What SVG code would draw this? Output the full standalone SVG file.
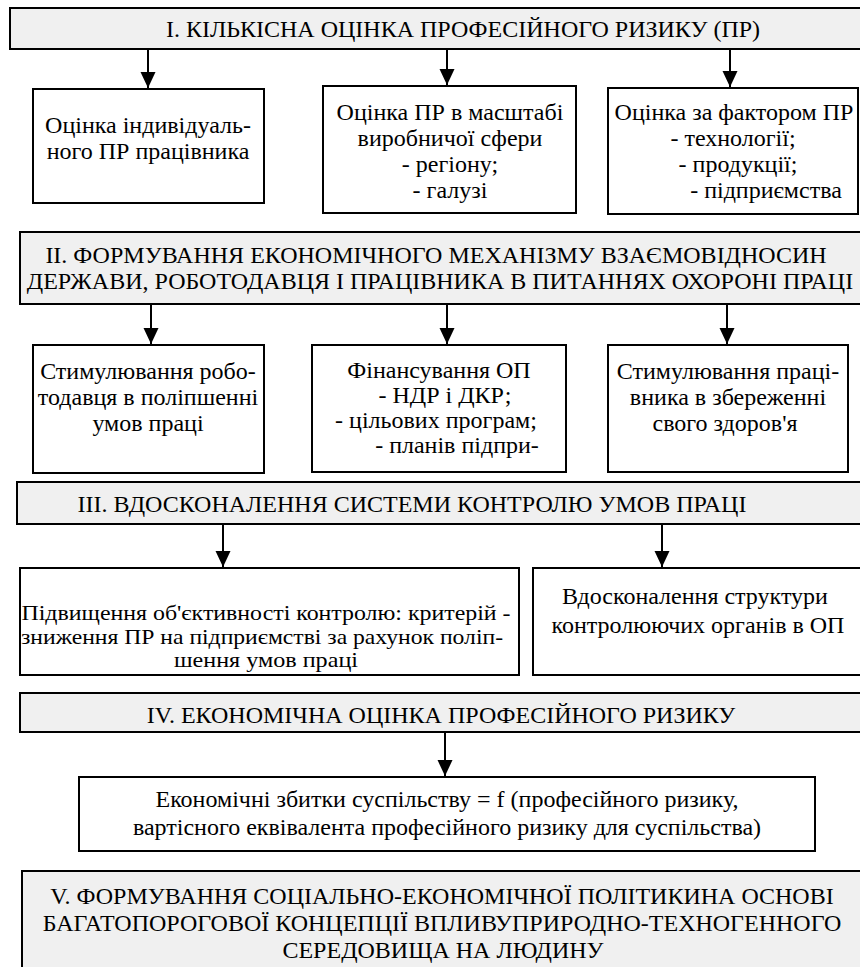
<svg xmlns="http://www.w3.org/2000/svg" width="860" height="967" viewBox="0 0 860 967">
<style>
.hdr{fill:#f0f0f0;stroke:#000;stroke-width:2}
.box{fill:#fff;stroke:#000;stroke-width:2}
text{font-family:"Liberation Serif","Times New Roman",serif;font-size:24px;fill:#000;text-anchor:middle}
.tight{font-size:21px}
.conn line{stroke:#000;stroke-width:2}
</style>
<defs>
<marker id="arr" markerUnits="userSpaceOnUse" markerWidth="16" markerHeight="16" refX="16" refY="7.5" orient="auto">
<path d="M0,0 L16,7.5 L0,15 z" fill="#000"/>
</marker>
</defs>
<rect width="860" height="967" fill="#fff"/>

<g id="h1">
<rect class="hdr" x="10" y="8" width="880" height="41"/>
<text x="463" y="37">I. КІЛЬКІСНА ОЦІНКА ПРОФЕСІЙНОГО РИЗИКУ (ПР)</text>
</g>
<g id="n1a">
<rect class="box" x="33" y="89" width="231" height="114"/>
<text x="148" y="133">Оцінка індивідуаль-</text>
<text x="148" y="159">ного ПР працівника</text>
</g>
<g id="n1b">
<rect class="box" x="323" y="86" width="253" height="127"/>
<text x="450" y="120">Оцінка ПР в масштабі</text>
<text x="450" y="146">виробничої сфери</text>
<text x="450" y="172">- регіону;</text>
<text x="450" y="198">- галузі</text>
</g>
<g id="n1c">
<rect class="box" x="608" y="88" width="250" height="126"/>
<text x="734" y="120">Оцінка за фактором ПР</text>
<text x="733" y="146">- технології;</text>
<text x="738" y="172">- продукції;</text>
<text x="766" y="198">- підприємства</text>
</g>

<g id="h2">
<rect class="hdr" x="20" y="232" width="870" height="72"/>
<text x="436" y="263">II. ФОРМУВАННЯ ЕКОНОМІЧНОГО МЕХАНІЗМУ ВЗАЄМОВІДНОСИН</text>
<text x="440" y="289">ДЕРЖАВИ, РОБОТОДАВЦЯ І ПРАЦІВНИКА В ПИТАННЯХ ОХОРОНІ ПРАЦІ</text>
</g>
<g id="n2a">
<rect class="box" x="33" y="345" width="231" height="128"/>
<text x="148" y="379">Стимулювання робо-</text>
<text x="148" y="405">тодавця в поліпшенні</text>
<text x="148" y="431">умов праці</text>
</g>
<g id="n2b">
<rect class="box" x="312" y="345" width="254" height="127"/>
<text x="439" y="378">Фінансування ОП</text>
<text x="445" y="403">- НДР і ДКР;</text>
<text x="436" y="428">- цільових програм;</text>
<text x="457" y="453">- планів підпри-</text>
</g>
<g id="n2c">
<rect class="box" x="608" y="345" width="240" height="127"/>
<text x="728" y="379">Стимулювання праці-</text>
<text x="728" y="405">вника в збереженні</text>
<text x="725" y="431">свого здоров'я</text>
</g>

<g id="h3">
<rect class="hdr" x="17" y="482" width="873" height="42"/>
<text x="412" y="512">III. ВДОСКОНАЛЕННЯ СИСТЕМИ КОНТРОЛЮ УМОВ ПРАЦІ</text>
</g>
<g id="n3a">
<rect class="box" x="20" y="568" width="499" height="107"/>
<text class="tight" x="266" y="620" textLength="489" lengthAdjust="spacingAndGlyphs">Підвищення об'єктивності контролю: критерій -</text>
<text class="tight" x="262" y="643.5" textLength="482" lengthAdjust="spacingAndGlyphs">зниження ПР на підприємстві за рахунок поліп-</text>
<text class="tight" x="266" y="667" textLength="184" lengthAdjust="spacingAndGlyphs">шення умов праці</text>
</g>
<g id="n3b">
<rect class="box" x="533" y="568" width="329" height="107"/>
<text x="695" y="604">Вдосконалення структури</text>
<text x="698" y="633">контролюючих органів в ОП</text>
</g>

<g id="h4">
<rect class="hdr" x="20" y="693" width="870" height="39"/>
<text x="441" y="723">IV. ЕКОНОМІЧНА ОЦІНКА ПРОФЕСІЙНОГО РИЗИКУ</text>
</g>
<g id="n4a">
<rect class="box" x="79" y="777" width="736" height="74"/>
<text x="447" y="807">Економічні збитки суспільству = f (професійного ризику,</text>
<text x="447" y="835">вартісного еквівалента професійного ризику для суспільства)</text>
</g>

<g id="h5">
<rect class="hdr" x="22" y="871" width="868" height="110"/>
<text x="442" y="904">V. ФОРМУВАННЯ СОЦІАЛЬНО-ЕКОНОМІЧНОЇ ПОЛІТИКИНА ОСНОВІ</text>
<text x="442" y="931">БАГАТОПОРОГОВОЇ КОНЦЕПЦІЇ ВПЛИВУПРИРОДНО-ТЕХНОГЕННОГО</text>
<text x="443" y="958">СЕРЕДОВИЩА НА ЛЮДИНУ</text>
</g>

<g id="connectors" class="conn">
<line x1="148" y1="49" x2="148" y2="88" marker-end="url(#arr)"/>
<line x1="447" y1="49" x2="447" y2="85" marker-end="url(#arr)"/>
<line x1="730" y1="49" x2="730" y2="87" marker-end="url(#arr)"/>
<line x1="151" y1="304" x2="151" y2="344" marker-end="url(#arr)"/>
<line x1="447" y1="304" x2="447" y2="344" marker-end="url(#arr)"/>
<line x1="727" y1="304" x2="727" y2="344" marker-end="url(#arr)"/>
<line x1="223" y1="524" x2="223" y2="567" marker-end="url(#arr)"/>
<line x1="662" y1="524" x2="662" y2="567" marker-end="url(#arr)"/>
<line x1="445" y1="732" x2="445" y2="776" marker-end="url(#arr)"/>
</g>
</svg>
